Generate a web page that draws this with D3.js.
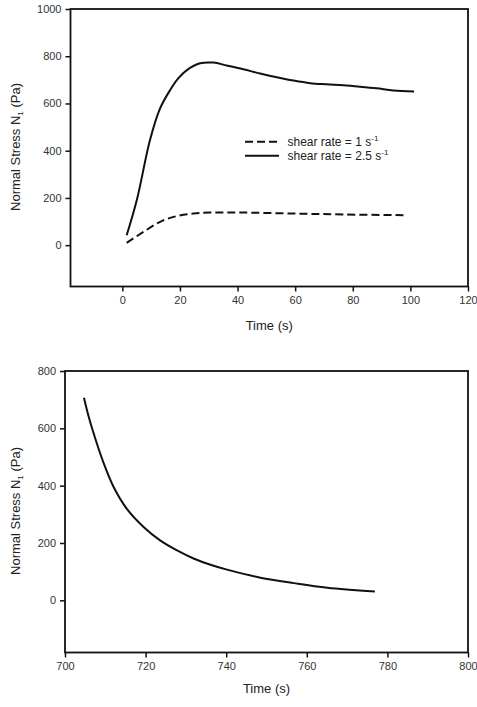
<!DOCTYPE html>
<html>
<head>
<meta charset="utf-8">
<script src="https://cdn.jsdelivr.net/npm/d3@7"></script>
<style>
  body { margin: 0; background: #fff; }
  text { font-family: "Liberation Sans", Arial, sans-serif; fill: #222; }
</style>
</head>
<body>
<div id="canvas"></div>
<script>
// ---- data ----
const timeSlow = [1.5, 7.3, 13.1, 18.9, 24.7, 30.5, 42, 59.4, 76.7, 97.6];
const stressSlow = [10, 56, 99, 123, 134, 138, 138, 134, 130, 127];

const timeFast = [1.5, 5, 9.6, 13.1, 16.6, 19.4, 22.4, 27, 31.6, 36.2, 42, 47.8, 53.6, 59.4, 65.2, 71, 76.7, 82.5, 88.3, 94.1, 101.3];
const stressFast = [42, 190, 445, 579, 657, 706, 741, 770, 773, 761, 745, 727, 711, 697, 686, 681, 677, 671, 664, 655, 651];

const timeRelax = [704.7, 705.8, 707.0, 709.5, 712.0, 715.3, 719.5, 723.6, 727.8, 731.9, 736.1, 740.2, 748.5, 756.8, 765.1, 776.9];
const stressRelax = [707, 645, 587, 482, 397, 320, 256, 209, 174, 146, 124, 107, 79, 60, 44, 31];

const ticksTop = [0, 20, 40, 60, 80, 100, 120];
const ticksTopY = [0, 200, 400, 600, 800, 1000];
const ticksBot = [700, 720, 740, 760, 780, 800];
const ticksBotY = [0, 200, 400, 600, 800];

const legendLabels = ["shear rate = 1 s", "shear rate = 2.5 s"];

const zip = (xs, ys) => xs.map((x, i) => ({x: x, y: ys[i]}));

const svg = d3.select("#canvas").append("svg")
    .attr("width", 477)
    .attr("height", 707);

function panel(opts) {
    const g = svg.append("g");
    const x = d3.scaleLinear().domain(opts.xDomain).range([opts.left, opts.right]);
    const y = d3.scaleLinear().domain(opts.yDomain).range([opts.bottom, opts.top]);

    g.append("g")
        .attr("transform", `translate(0, ${opts.bottom})`)
        .call(d3.axisBottom(x).tickValues(opts.xTicks).tickSize(5).tickPadding(5).tickFormat(d3.format("d")))
        .call(a => a.select(".domain").remove())
        .call(a => a.selectAll("line").attr("stroke", "#111").attr("stroke-width", 1.5))
        .call(a => a.selectAll("text").style("font-size", "11px").style("fill", "#333"));

    g.append("g")
        .attr("transform", `translate(${opts.left}, 0)`)
        .call(d3.axisLeft(y).tickValues(opts.yTicks).tickSize(5).tickPadding(4).tickFormat(d3.format("d")))
        .call(a => a.select(".domain").remove())
        .call(a => a.selectAll("line").attr("stroke", "#111").attr("stroke-width", 1.5))
        .call(a => a.selectAll("text").style("font-size", "11px").style("fill", "#333"));

    g.append("rect")
        .attr("x", opts.left)
        .attr("y", opts.top)
        .attr("width", opts.right - opts.left)
        .attr("height", opts.bottom - opts.top)
        .attr("fill", "none")
        .attr("stroke", "#111")
        .attr("stroke-width", 1.8);

    const line = d3.line().x(d => x(d.x)).y(d => y(d.y)).curve(d3.curveCatmullRom.alpha(0.5));
    opts.series.forEach(s => {
        g.append("path")
            .datum(s.data)
            .attr("d", line)
            .attr("fill", "none")
            .attr("stroke", "#111")
            .attr("stroke-width", 2)
            .attr("stroke-dasharray", s.dash || null);
    });

    g.append("text")
        .attr("text-anchor", "middle")
        .style("font-size", "13px")
        .attr("x", (opts.left + opts.right) / 2)
        .attr("y", opts.bottom + opts.titleGap)
        .text("Time (s)");

    const yl = g.append("text")
        .attr("text-anchor", "middle")
        .style("font-size", "13px")
        .attr("transform", `translate(20, ${opts.labelY}) rotate(-90)`);
    yl.append("tspan").text("Normal Stress N");
    yl.append("tspan").attr("dy", 3).style("font-size", "8px").text("1");
    yl.append("tspan").attr("dy", -3).text(" (Pa)");

    return {g: g, x: x, y: y};
}

const topPanel = panel({
    left: 70.5, right: 468, top: 9, bottom: 286.5,
    xDomain: [-18, 120], yDomain: [-175, 1000],
    xTicks: ticksTop, yTicks: ticksTopY, labelY: 147, titleGap: 43,
    series: [
        {data: zip(timeSlow, stressSlow), dash: "8,4"},
        {data: zip(timeFast, stressFast)}
    ]
});

// legend
const leg = topPanel.g.append("g");
legendLabels.forEach((lab, i) => {
    const ly = 141.7 + i * 14;
    leg.append("line")
        .attr("x1", 245).attr("x2", 279)
        .attr("y1", ly).attr("y2", ly)
        .attr("stroke", "#111")
        .attr("stroke-width", 2)
        .attr("stroke-dasharray", i === 0 ? "8,4" : null);
    const t = leg.append("text")
        .attr("x", 287.5)
        .attr("y", ly + 4)
        .style("font-size", "12px");
    t.append("tspan").text(lab);
    t.append("tspan").attr("dy", -5).style("font-size", "8px").text("-1");
});

panel({
    left: 65, right: 468, top: 371, bottom: 652.5,
    xDomain: [700, 800], yDomain: [-182, 800],
    xTicks: ticksBot, yTicks: ticksBotY, labelY: 511, titleGap: 40,
    series: [
        {data: zip(timeRelax, stressRelax)}
    ]
});
</script>
</body>
</html>
